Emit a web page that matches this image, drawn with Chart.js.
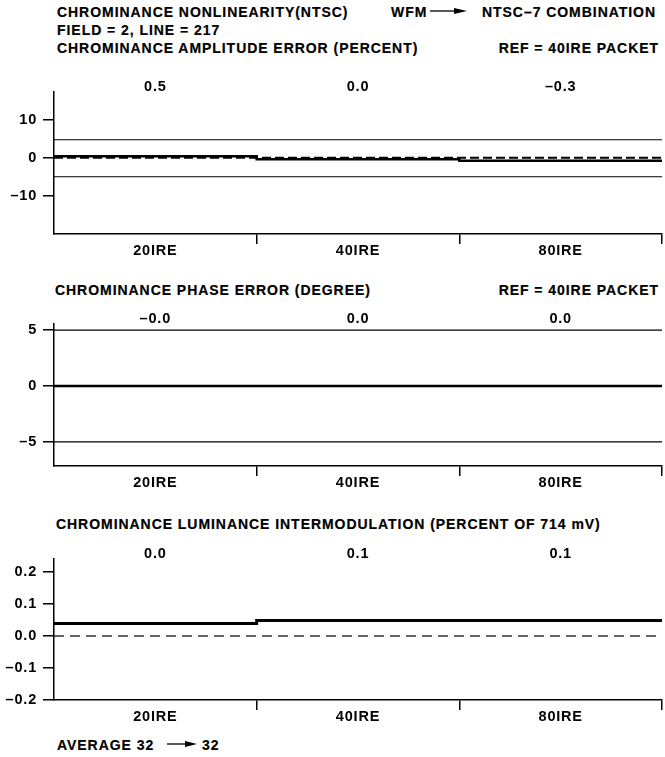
<!DOCTYPE html>
<html>
<head>
<meta charset="utf-8">
<script src="https://cdn.jsdelivr.net/npm/chart.js@4.4.1/dist/chart.umd.min.js"></script>
<style>
  body { margin: 0; background: #fff; }
  #page { position: relative; width: 665px; height: 757px; overflow: hidden; background: #fff;
    font-family: 'Liberation Sans', Arial, sans-serif; font-weight: bold; color: #000; }
  #page canvas { position: absolute; left: 0; }
  .t { position: absolute; font-size: 14px; line-height: 14px; letter-spacing: 0.95px; white-space: nowrap;
    -webkit-text-stroke: 0.2px #000; }
  .arrow { position: absolute; }
</style>
</head>
<body>
<div id="page">
  <div class="t" style="left:57px;top:5px">CHROMINANCE NONLINEARITY(NTSC)</div>
  <div class="t" style="left:391px;top:5px">WFM</div>
  <svg class="arrow" style="left:430px;top:6px" width="38" height="10">
    <line x1="0" y1="5" x2="26" y2="5" stroke="#000" stroke-width="1.3"/>
    <polygon points="24,2 37,5 24,8" fill="#000"/>
  </svg>
  <div class="t" style="left:482px;top:5px">NTSC–7 COMBINATION</div>
  <div class="t" style="left:57px;top:22.5px">FIELD = 2, LINE = 217</div>
  <div class="t" style="left:57px;top:40.5px">CHROMINANCE AMPLITUDE ERROR (PERCENT)</div>
  <div class="t" style="right:6px;top:40.5px">REF = 40IRE PACKET</div>

  <div class="t" style="left:55px;top:283px">CHROMINANCE PHASE ERROR (DEGREE)</div>
  <div class="t" style="right:6px;top:283px">REF = 40IRE PACKET</div>

  <div class="t" style="left:56px;top:516.5px">CHROMINANCE LUMINANCE INTERMODULATION (PERCENT OF 714 mV)</div>

  <div class="t" style="left:57px;top:737.5px">AVERAGE 32</div>
  <svg class="arrow" style="left:167px;top:739px" width="32" height="10">
    <line x1="0" y1="5" x2="20" y2="5" stroke="#000" stroke-width="1.3"/>
    <polygon points="18,2 30,5 18,8" fill="#000"/>
  </svg>
  <div class="t" style="left:202px;top:737.5px">32</div>

  <canvas id="ampChart" width="665" height="200" style="top:62px"></canvas>
  <canvas id="phaseChart" width="665" height="200" style="top:296px"></canvas>
  <canvas id="imChart" width="665" height="200" style="top:528px"></canvas>
</div>
<script>
// categories along the bottom of every panel
const categories = ['20IRE', '40IRE', '80IRE'];

// chrominance amplitude error (percent)
const ampLabels = ['0.5', '0.0', '–0.3'];
const ampValues = [0.4, -0.4, -0.8];
const ampLimits = [4.7, -5];
const ampTicks = [10, 0, -10];

// chrominance phase error (degree)
const phaseLabels = ['–0.0', '0.0', '0.0'];
const phaseValues = [0, 0, 0];
const phaseLimits = [5, -5];
const phaseTicks = [5, 0, -5];

// chrominance luminance intermodulation (percent of 714 mV)
const imLabels = ['0.0', '0.1', '0.1'];
const imValues = [0.039, 0.048, 0.048];
const imTicks = [0.2, 0.1, 0.0, -0.1, -0.2];

const font = { family: "'Liberation Sans', Arial, sans-serif", size: 14.5, weight: 'bold', lineHeight: 1 };
const dash = (s) => s.replace('-', '–');

// canvas letter spacing so the labels look like the printout
const spacing = {
  id: 'spacing',
  beforeDraw: (chart) => { chart.ctx.letterSpacing = '0.8px'; },
};

// builds one panel: stepped value line, limit lines, dashed zero line
const makePanel = (id, cfg) => {
  const ctx = document.getElementById(id).getContext('2d');
  const n = categories.length;
  const steps = cfg.values.map((v, i) => ({ x: i, y: v }));
  steps.push({ x: n, y: cfg.values[n - 1] });

  const datasets = [
    { data: steps, stepped: true, borderColor: '#000', borderWidth: cfg.lineWidth, pointRadius: 0 },
  ];
  cfg.limits.forEach((v) => {
    datasets.push({ data: [{ x: 0, y: v }, { x: n, y: v }], borderColor: '#000', borderWidth: 1.2, pointRadius: 0 });
  });
  if (cfg.zero) {
    datasets.push({
      data: [{ x: 0, y: 0 }, { x: n, y: 0 }],
      borderColor: cfg.zero.color, borderWidth: cfg.zero.width, borderDash: cfg.zero.dash, pointRadius: 0,
    });
  }
  datasets.forEach((d) => { d.xAxisID = 'x'; d.yAxisID = 'y'; d.fill = false; });

  new Chart(ctx, {
    type: 'line',
    data: { datasets },
    plugins: [spacing],
    options: {
      responsive: false,
      animation: false,
      events: [],
      layout: { padding: { left: 0, right: 3, top: 0, bottom: 0 } },
      plugins: { legend: { display: false }, tooltip: { enabled: false } },
      scales: {
        x: { type: 'linear', min: 0, max: n, display: false },
        xc: {
          type: 'category',
          labels: categories,
          position: 'bottom',
          offset: true,
          grid: {
            offset: true,
            drawOnChartArea: false,
            tickLength: 10,
            lineWidth: 1.5,
            color: (c) => (c.index === 0 ? 'rgba(0,0,0,0)' : '#000'),
          },
          border: { display: true, color: '#000', width: 1.5 },
          ticks: { color: '#000', font, padding: 0, maxRotation: 0, autoSkip: false },
          afterFit: (s) => { s.height = cfg.bottomH; },
        },
        xt: {
          type: 'category',
          labels: cfg.labels,
          position: 'top',
          offset: true,
          grid: { display: false },
          border: { display: false },
          ticks: { color: '#000', font, padding: -10.5, maxRotation: 0, autoSkip: false },
          afterFit: (s) => { s.height = cfg.topH; },
        },
        y: {
          type: 'linear',
          min: cfg.min,
          max: cfg.max,
          grid: { drawOnChartArea: false, tickLength: 11, lineWidth: 1.5, color: '#000' },
          border: { display: true, color: '#000', width: 1.5 },
          afterBuildTicks: (s) => { s.ticks = cfg.ticks.map((v) => ({ value: v })); },
          ticks: { color: '#000', font, padding: 6, callback: cfg.fmt },
          afterFit: (s) => { s.width = 54; },
        },
      },
    },
  });
};

makePanel('ampChart', {
  labels: ampLabels, values: ampValues, limits: ampLimits, ticks: ampTicks,
  min: -20, max: 17.3, lineWidth: 2.5, topH: 29.7, bottomH: 28,
  zero: { color: '#000', width: 2, dash: [9, 4] },
  fmt: (v) => dash(String(v)),
});

makePanel('phaseChart', {
  labels: phaseLabels, values: phaseValues, limits: phaseLimits, ticks: phaseTicks,
  min: -7.15, max: 5.55, lineWidth: 2.5, topH: 28, bottomH: 30,
  zero: null,
  fmt: (v) => dash(String(v)),
});

makePanel('imChart', {
  labels: imLabels, values: imValues, limits: [], ticks: imTicks,
  min: -0.2, max: 0.242, lineWidth: 3, topH: 30.3, bottomH: 28,
  zero: { color: '#333', width: 1.5, dash: [10, 6] },
  fmt: (v) => dash(v.toFixed(1)),
});
</script>
</body>
</html>
